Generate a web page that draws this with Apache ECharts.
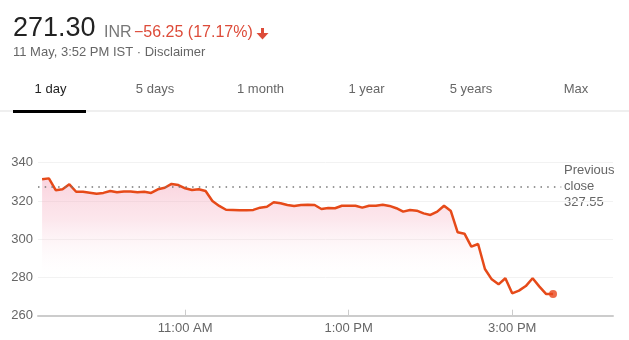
<!DOCTYPE html>
<html>
<head>
<meta charset="utf-8">
<script src="https://cdn.jsdelivr.net/npm/echarts@6/dist/echarts.min.js"></script>
<style>
html,body{margin:0;padding:0;background:#fff;}
#chart{width:629px;height:340px;}
</style>
</head>
<body>
<div id="chart"></div>
<script>
// Sampling grid: one price every 5 minutes, 9:15 AM to 3:30 PM IST (minutes since midnight)
const sessionStart = 9 * 60 + 15;
const stepMinutes = 5;
// Prices
const prices = [
  331.3, 331.8, 325.6, 326.1, 328.7, 324.8, 324.8, 324.3, 323.8, 324.2,
  325.2, 324.5, 325.0, 325.0, 324.5, 324.8, 324.2, 326.1, 326.9, 328.9,
  328.3, 326.6, 325.7, 326.1, 325.2, 320.0, 317.4, 315.4, 315.3, 315.2,
  315.1, 315.3, 316.5, 317.0, 319.3, 318.8, 317.9, 317.4, 317.9, 318.0,
  317.9, 315.8, 316.3, 316.2, 317.5, 317.5, 317.5, 316.5, 317.5, 317.5,
  318.0, 317.4, 316.2, 314.4, 315.3, 314.9, 313.5, 312.7, 314.4, 317.5,
  314.7, 303.6, 302.9, 296.1, 297.5, 284.4, 279.0, 276.4, 279.6, 271.7,
  273.1, 275.5, 279.6, 275.2, 271.3, 271.3
];
const previousClose = 327.55;
const yTicks = [260, 280, 300, 320, 340];
const xTickMinutes = [660, 780, 900];
const xTickLabels = ['11:00 AM', '1:00 PM', '3:00 PM'];
const tabs = ['1 day', '5 days', '1 month', '1 year', '5 years', 'Max'];
const headline = { price: '271.30', currency: 'INR', change: '\u221256.25 (17.17%)', stamp: '11 May, 3:52 PM IST \u00b7 Disclaimer' };

const seriesData = prices.map((p, i) => [sessionStart + i * stepMinutes, p]);
const last = seriesData[seriesData.length - 1];

const FONT = '"Liberation Sans", Arial, sans-serif';
const tabCenters = [50.5, 155, 260.5, 366.5, 471, 576];

const graphics = [
  { type: 'text', left: 13, top: 15, style: { text: headline.price, font: '27px ' + FONT, fill: '#222' } },
  { type: 'text', left: 104, top: 25, style: { text: headline.currency, font: '16px ' + FONT, fill: '#777' } },
  { type: 'text', left: 134, top: 25, style: { text: headline.change, font: '16px ' + FONT, fill: '#dd4b39' } },
  { type: 'rect', shape: { x: 261, y: 28, width: 3, height: 6 }, style: { fill: '#dd4b39' } },
  { type: 'polygon', shape: { points: [[256.5, 33], [268.5, 33], [262.5, 39.5]] }, style: { fill: '#dd4b39' } },
  { type: 'text', left: 13, top: 46, style: { text: headline.stamp, font: '13px ' + FONT, fill: '#666' } },
  { type: 'rect', shape: { x: 0, y: 110.5, width: 629, height: 1 }, style: { fill: '#e0e0e0' } },
  { type: 'rect', shape: { x: 13, y: 110, width: 73, height: 3 }, style: { fill: '#000' } },
  { type: 'text', x: 564, y: 170.7, style: { text: 'Previous', font: '13px ' + FONT, fill: '#666', verticalAlign: 'middle' } },
  { type: 'text', x: 564, y: 186.7, style: { text: 'close', font: '13px ' + FONT, fill: '#666', verticalAlign: 'middle' } },
  { type: 'text', x: 564, y: 202.5, style: { text: String(previousClose), font: '13px ' + FONT, fill: '#666', verticalAlign: 'middle' } }
];
tabs.forEach((t, i) => {
  graphics.push({ type: 'text', x: tabCenters[i], y: 89, style: { text: t, font: '13px ' + FONT, fill: i === 0 ? '#222' : '#666', align: 'center', verticalAlign: 'middle' } });
});

const chart = echarts.init(document.getElementById('chart'), null, { renderer: 'canvas' });
chart.setOption({
  animation: false,
  backgroundColor: '#fff',
  textStyle: { fontFamily: FONT },
  grid: { left: 38, right: 16, top: 162.7, bottom: 24.3, containLabel: false },
  xAxis: {
    type: 'value', min: 552, max: 974,
    axisLine: { show: true, lineStyle: { color: '#cccccc', width: 2 } },
    axisTick: { show: true, inside: true, length: 6, lineStyle: { color: '#cccccc', width: 1 }, customValues: xTickMinutes },
    axisLabel: { customValues: xTickMinutes, formatter: v => xTickLabels[xTickMinutes.indexOf(v)], color: '#666', fontSize: 13, margin: 6 },
    splitLine: { show: false }
  },
  yAxis: {
    type: 'value', min: 260, max: 340, interval: 20,
    axisLine: { show: false }, axisTick: { show: false },
    axisLabel: { color: '#666', fontSize: 13, margin: 5 },
    splitLine: { show: true, lineStyle: { color: '#f2f2f2', width: 1 } }
  },
  series: [
    {
      type: 'line', data: seriesData, symbol: 'none', smooth: false,
      lineStyle: { color: '#e64a19', width: 2.5 },
      areaStyle: {
        origin: 'start',
        color: new echarts.graphic.LinearGradient(0, 0, 0, 1, [
          { offset: 0, color: 'rgba(244,160,182,0.65)' },
          { offset: 0.3, color: 'rgba(246,178,196,0.45)' },
          { offset: 0.75, color: 'rgba(255,255,255,0)' },
          { offset: 1, color: 'rgba(255,255,255,0)' }
        ])
      },
      markLine: {
        silent: true, symbol: 'none', label: { show: false },
        lineStyle: { color: '#777', width: 1.5, type: [1.5, 5.2] },
        data: [[{ coord: [552, previousClose] }, { coord: [936, previousClose] }]]
      },
      z: 2
    },
    {
      type: 'scatter', data: [last], symbol: 'circle', symbolSize: 8,
      itemStyle: { color: '#e8461c' }, z: 3
    }
  ],
  graphic: graphics
});
</script>
</body>
</html>
